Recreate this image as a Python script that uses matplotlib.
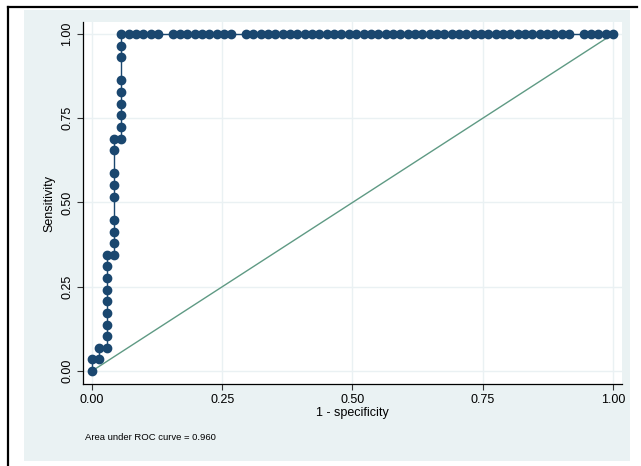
import matplotlib
matplotlib.use("Agg")
import matplotlib.pyplot as plt
from matplotlib.patches import Rectangle
from matplotlib.lines import Line2D

# ---- data ----
n_negative = 71
n_positive = 29
fp_counts = [0, 0, 1, 1, 2, 2, 2, 2, 2, 2, 2, 2, 2,
             3, 3, 3, 3, 3, 3, 3, 3, 3,
             4, 4, 4, 4, 4, 4, 4, 4, 4,
             5, 6, 7, 8, 9,
             11, 12, 13, 14, 15, 16, 17, 18, 19,
             21, 22, 23, 24, 25, 26, 27, 28, 29, 30, 31, 32, 33, 34, 35, 36, 37, 38, 39, 40,
             41, 42, 43, 44, 45, 46, 47, 48, 49, 50, 51, 52, 53, 54, 55, 56, 57, 58, 59, 60,
             61, 62, 63, 64, 65,
             67, 68, 69, 70, 71]
tp_counts = [0, 1, 1, 2, 2, 3, 4, 5, 6, 7, 8, 9, 10,
             10, 11, 12, 13, 15, 16, 17, 19, 20,
             20, 21, 22, 23, 24, 25, 27, 28, 29,
             29, 29, 29, 29, 29,
             29, 29, 29, 29, 29, 29, 29, 29, 29,
             29, 29, 29, 29, 29, 29, 29, 29, 29, 29, 29, 29, 29, 29, 29, 29, 29, 29, 29, 29,
             29, 29, 29, 29, 29, 29, 29, 29, 29, 29, 29, 29, 29, 29, 29, 29, 29, 29, 29, 29,
             29, 29, 29, 29, 29,
             29, 29, 29, 29, 29]
tick_values = [0.0, 0.25, 0.5, 0.75, 1.0]
tick_labels = ["0.00", "0.25", "0.50", "0.75", "1.00"]
auc_text = "Area under ROC curve = 0.960"

x_vals = [c / n_negative for c in fp_counts]
y_vals = [c / n_positive for c in tp_counts]

plt.rcParams['font.family'] = ['Liberation Sans', 'DejaVu Sans']

W, H = 641, 466
fig = plt.figure(figsize=(W / 100, H / 100), dpi=100)
fig.patch.set_facecolor('white')

# Stata-like graph region panel
fig.patches.append(Rectangle((24 / W, 1 - 461 / H), (630 - 24) / W, (461 - 10) / H,
                             transform=fig.transFigure, facecolor='#eaf2f3',
                             edgecolor='none', zorder=-5))
# black frame lines of screenshot
fig.lines.append(Line2D([8 / W, 637 / W], [1 - 7 / H, 1 - 7 / H], transform=fig.transFigure,
                        color='black', lw=1.6, zorder=-4))
fig.lines.append(Line2D([8 / W, 8 / W], [1 - 7 / H, 0], transform=fig.transFigure,
                        color='black', lw=1.6, zorder=-4))

ax = fig.add_axes([83 / W, 1 - 384 / H, (622 - 83) / W, (384 - 22) / H])
ax.set_zorder(2)
ax.set_facecolor('white')
ax.set_xlim(-0.0173, 1.0173)
ax.set_ylim(-0.0386, 1.0356)

for t in tick_values:
    ax.axhline(t, color='#eaf1f3', lw=1.0, zorder=0)
    ax.axvline(t, color='#eaf1f3', lw=1.0, zorder=0)

ax.plot([0, 1], [0, 1], color='#5f9a84', lw=1.0, zorder=2)
ax.plot(x_vals, y_vals, color='#1a476f', lw=1.0, marker='o', markersize=6.0,
        markerfacecolor='#1a476f', markeredgecolor='#1a476f', zorder=3)

for s in ['top', 'right']:
    ax.spines[s].set_visible(False)
for s in ['left', 'bottom']:
    ax.spines[s].set_color('black')
    ax.spines[s].set_linewidth(0.9)

ax.set_xticks(tick_values)
ax.set_xticklabels(tick_labels, fontsize=9)
ax.set_yticks(tick_values)
ax.set_yticklabels(tick_labels, fontsize=9, rotation=90, va='center')
ax.tick_params(axis='both', direction='out', length=4, width=0.8, color='#333333', pad=3)

ax.set_xlabel('1 - specificity', fontsize=9, labelpad=1)
ax.set_ylabel('Sensitivity', fontsize=9, labelpad=4)

fig.text(85 / W, 1 - 437 / H, auc_text, fontsize=6.8, ha='left', va='center')

fig.savefig('out.png', dpi=100)
